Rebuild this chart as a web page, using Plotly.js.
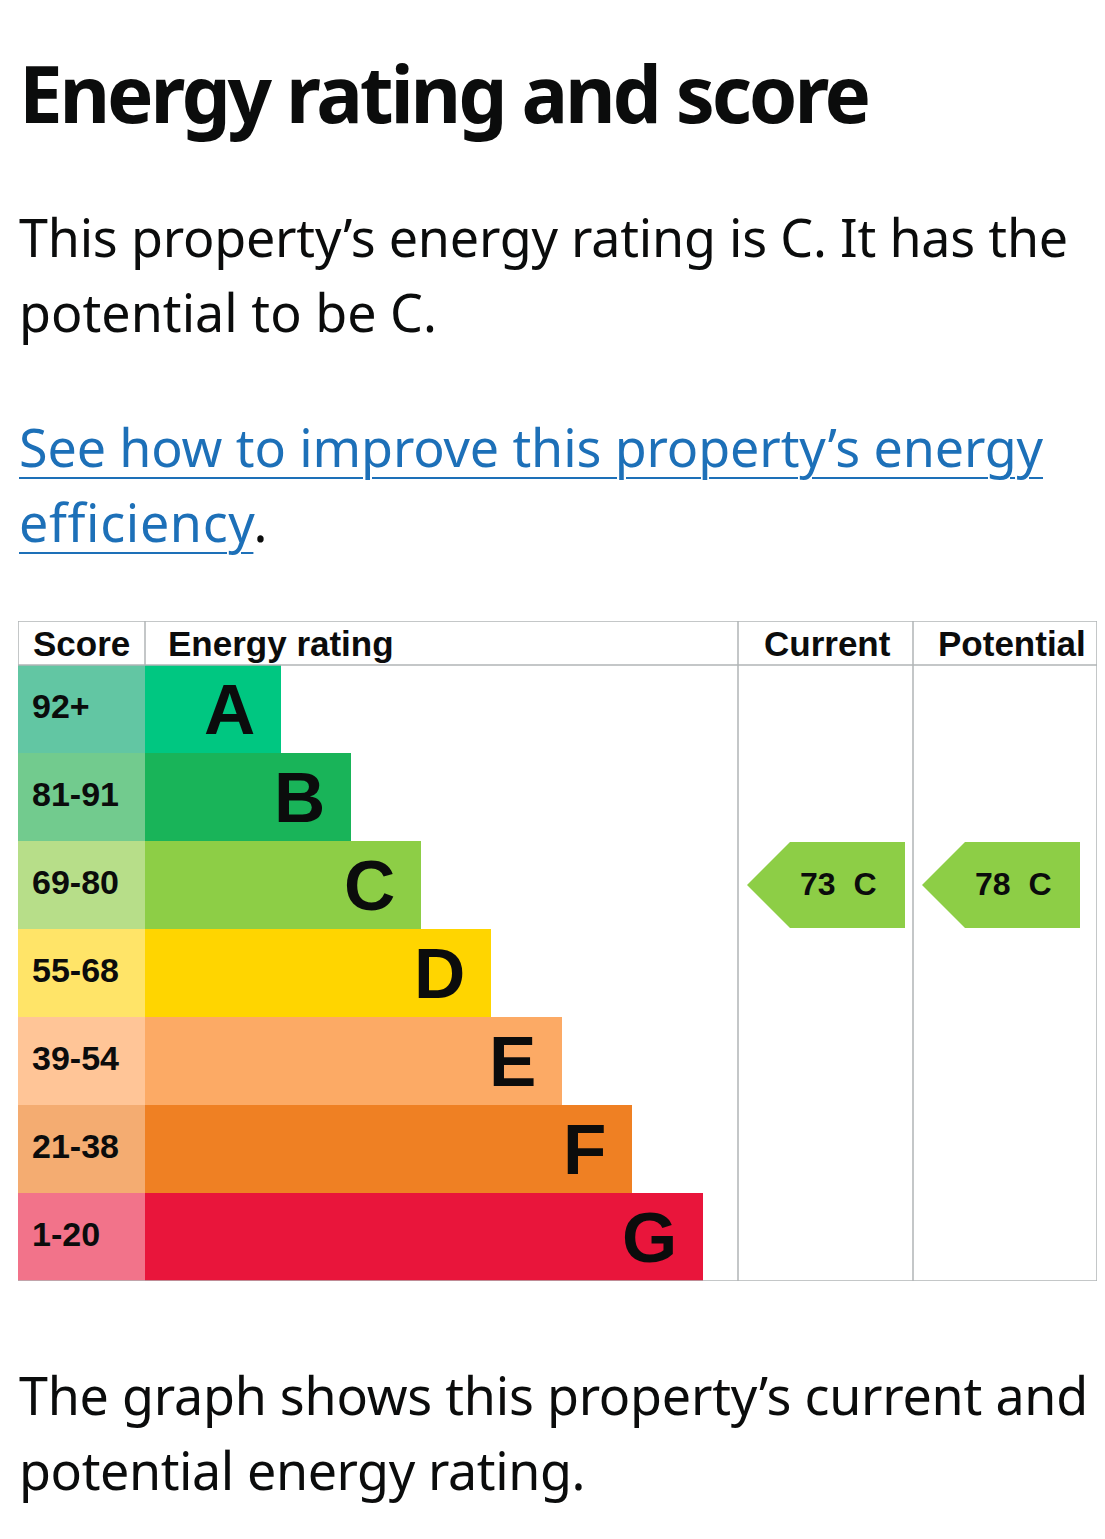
<!DOCTYPE html>
<html>
<head>
<meta charset="utf-8">
<script src="https://cdn.plot.ly/plotly-3.0.1.min.js"></script>
<style>
  html, body { margin:0; padding:0; background:#fff; }
  body { width:1105px; height:1539px; position:relative; overflow:hidden; color:#0b0c0c; font-family:"Noto Sans", "Open Sans", sans-serif; }
  .ln { position:absolute; left:19px; white-space:nowrap; font-size:52px; line-height:75px; }
  .ttl { position:absolute; left:19px; white-space:nowrap; font-size:78px; line-height:100px; font-weight:700; }
  a { color:#1d70b8; text-decoration:underline; text-decoration-thickness:2px; text-underline-offset:10px; }
  #chart { position:absolute; left:0; top:600px; width:1105px; height:700px; }
</style>
</head>
<body>
<div class="ttl fit" data-w="849" style="top:43px">Energy rating and score</div>
<div class="ln fit" data-w="1049" style="top:199px">This property’s energy rating is C. It has the</div>
<div class="ln fit" data-w="418" style="top:274px">potential to be C.</div>
<div class="ln fit" data-w="1024" style="top:409px"><a href="#">See how to improve this property’s energy</a></div>
<div class="ln fit" data-w="249" style="top:484px"><a href="#">efficiency</a>.</div>
<div id="chart"></div>
<div class="ln fit" data-w="1069" style="top:1357px">The graph shows this property’s current and</div>
<div class="ln fit" data-w="566" style="top:1432px">potential energy rating.</div>

<script>
// ---------- data ----------
const ratings      = ['A', 'B', 'C', 'D', 'E', 'F', 'G'];
const scoreRanges  = ['92+', '81-91', '69-80', '55-68', '39-54', '21-38', '1-20'];
const barLengths   = [136, 206, 276, 346, 417, 487, 558];
const barColors    = ['#00c781', '#19b459', '#8dce46', '#ffd500', '#fcaa65', '#ef8023', '#e9153b'];
const scoreColors  = ['#62c6a3', '#72cb8e', '#b7de89', '#ffe468', '#ffc597', '#f4ac71', '#f2738a'];
const headers      = ['Score', 'Energy rating', 'Current', 'Potential'];
const currentScore = 73;
const currentRating = 'C';
const potentialScore = 78;
const potentialRating = 'C';

// ---------- layout constants ----------
const colEdges = [0, 127, 720, 895, 1079];   // table column boundaries (x units)
const headerPad = [13, 21, 24, 23];
const tableW = 1079;
const gray = '#b1b4b6';
const chartFont = 'Liberation Sans, Arial, Helvetica, sans-serif';
const ink = '#0b0c0c';

const rows = ratings.map((r, i) => i);

const traces = [];
// score cells
traces.push({
  type: 'bar', orientation: 'h', y: rows, x: rows.map(() => colEdges[1]), base: 0,
  width: 1, marker: { color: scoreColors, line: { width: 0 } }, hoverinfo: 'skip', showlegend: false
});
// rating bars
traces.push({
  type: 'bar', orientation: 'h', y: rows, x: barLengths, base: colEdges[1],
  width: 1, marker: { color: barColors, line: { width: 0 } }, hoverinfo: 'skip', showlegend: false
});

const annotations = [];
const shapes = [];

// arrows
function arrow(score, rating, colIdx) {
  const idx = ratings.indexOf(rating);
  const left = colEdges[colIdx] + 9;
  const point = 43, w = 158;
  const top = idx - 0.49, bot = idx + 0.49;
  traces.push({
    type: 'scatter', mode: 'lines', fill: 'toself', fillcolor: barColors[idx],
    line: { width: 0, color: barColors[idx] },
    x: [left, left + point, left + w, left + w, left + point, left],
    y: [idx, top, top, bot, bot, idx],
    hoverinfo: 'skip', showlegend: false
  });
  annotations.push({
    x: left + w - 27, y: idx, xref: 'x', yref: 'y', xanchor: 'right', yanchor: 'middle',
    text: score + '  ' + rating, showarrow: false, yshift: 1,
    font: { family: chartFont, size: 32, color: ink, weight: 'bold' }
  });
}
arrow(currentScore, currentRating, 2);
arrow(potentialScore, potentialRating, 3);

// letters and score labels
ratings.forEach((r, i) => {
  annotations.push({
    x: colEdges[1] + barLengths[i] - 24, y: i, xref: 'x', yref: 'y', xanchor: 'right', yanchor: 'middle',
    text: r, showarrow: false, yshift: 0,
    font: { family: chartFont, size: 71, color: ink, weight: 'bold' }
  });
  annotations.push({
    x: 12, y: i, xref: 'x', yref: 'y', xanchor: 'left', yanchor: 'middle',
    text: scoreRanges[i], showarrow: false, yshift: 3,
    font: { family: chartFont, size: 34, color: ink, weight: 'bold' }
  });
});

// headers
headers.forEach((h, i) => {
  annotations.push({
    x: colEdges[i] + headerPad[i], y: -0.75, xref: 'x', yref: 'y', xanchor: 'left', yanchor: 'middle',
    text: h, showarrow: false, yshift: 0,
    font: { family: chartFont, size: 35, color: ink, weight: 'bold' }
  });
});

// grid lines
colEdges.forEach((x, i) => {
  shapes.push({
    type: 'line', xref: 'x', yref: 'y', x0: x, x1: x, y0: -1, y1: 6.5,
    line: { color: gray, width: 1.5 }, layer: i < 2 ? 'below' : 'above'
  });
});
[-1, -0.5, 6.5].forEach(y => {
  shapes.push({
    type: 'line', xref: 'x', yref: 'y', x0: 0, x1: tableW, y0: y, y1: y,
    line: { color: gray, width: 1.5 }, layer: 'above'
  });
});

const layout = {
  width: 1105, height: 700,
  margin: { l: 18, r: 8, t: 21, b: 19, pad: 0 },
  paper_bgcolor: 'rgba(0,0,0,0)', plot_bgcolor: 'rgba(0,0,0,0)',
  barmode: 'overlay', bargap: 0,
  xaxis: { range: [0, tableW], visible: false, fixedrange: true },
  yaxis: { range: [6.5, -1], visible: false, fixedrange: true },
  showlegend: false,
  annotations, shapes
};

Plotly.newPlot('chart', traces, layout, { staticPlot: true, displayModeBar: false });

// ---------- fit text line widths ----------
function fitLines() {
  document.querySelectorAll('.fit').forEach(el => {
    const target = +el.dataset.w;
    el.style.letterSpacing = '0px';
    const w = el.getBoundingClientRect().width;
    const n = el.textContent.length;
    if (n > 1) el.style.letterSpacing = ((target - w) / n) + 'px';
  });
}
if (document.fonts && document.fonts.ready) document.fonts.ready.then(fitLines); else fitLines();
fitLines();
</script>
</body>
</html>
